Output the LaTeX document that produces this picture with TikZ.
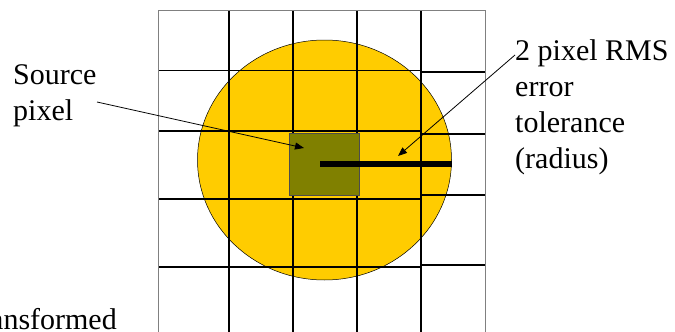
\documentclass[tikz,border=0pt]{standalone}
\usepackage{fontspec}
\setmainfont{Liberation Serif}
\usetikzlibrary{arrows.meta}
\definecolor{discgold}{RGB}{255,204,0}
\definecolor{pixolive}{RGB}{128,128,0}

\begin{document}
\begin{tikzpicture}[x=1pt,y=-1pt,
  lbl/.style={font=\fontsize{30}{36}\selectfont,align=left,inner sep=0pt,anchor=base west},
  gridln/.style={draw=black,line width=2pt},
  thinln/.style={draw=black,line width=1pt},
  edgeln/.style={draw=black!50,line width=1pt},
  ptr/.style={draw=black,line width=0.8pt,-{Triangle[length=9pt,width=7pt]}}
]
\useasboundingbox (0,0) rectangle (675,332);
\clip (0,0) rectangle (675,332);
% error disc
\draw[fill=discgold,draw=black,line width=0.5pt] (324.5,160) ellipse [x radius=127,y radius=120];
% target grid
\foreach \gx in {229,293,357}
  { \draw[gridln] (\gx,10) -- (\gx,332); }
\draw[draw=black,line width=1.5pt] (421,10) -- (421,332);
\draw[thinln] (158,70) -- (421,70);
\foreach \gy in {131,199,267}
  { \draw[gridln] (158,\gy) -- (421,\gy); }
\foreach \gy in {72,134,195,265}
  { \draw[gridln] (421,\gy) -- (485,\gy); }
\draw[edgeln] (158,332) -- (158,10) -- (485,10) -- (485,332);
% source pixel and radius bar
\node[draw=black!70,fill=pixolive,line width=0.8pt,minimum width=70pt,minimum height=62pt,inner sep=0pt]
  (srcpix) at (324,164) {};
\coordinate (rim) at (452,164);
\draw[draw=black,line width=6pt] ([xshift=-4pt]srcpix.center) -- (rim);
% labels (anchored on the last line)
\node[lbl] (srclbl) at (13,120) {Source\\pixel};
\node[lbl] (tollbl) at (515,168) {2 pixel RMS\\error\\tolerance\\(radius)};
\node[lbl,anchor=base east] (trlbl) at (117,329) {Transformed};
% pointers
\coordinate (srctail) at (97,102);
\coordinate (srchead) at (304,148);
\coordinate (toltail) at (515,55);
\coordinate (tolhead) at (398,156);
\draw[ptr] (srctail) -- (srchead);
\draw[ptr] (toltail) -- (tolhead);
\end{tikzpicture}
\end{document}
